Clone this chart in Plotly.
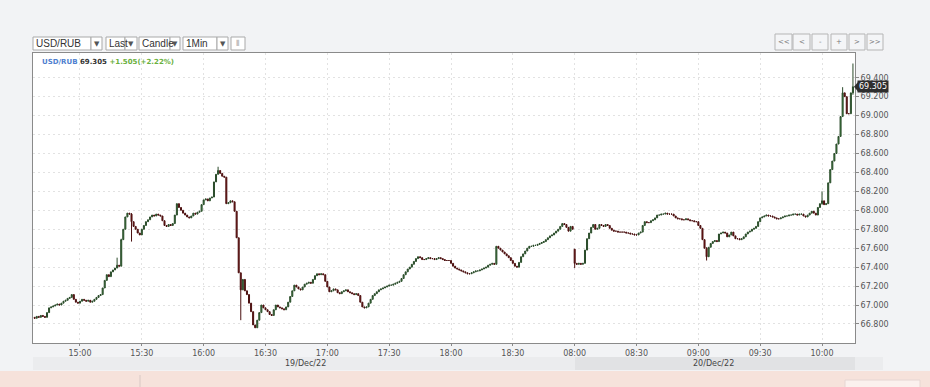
import plotly.graph_objects as go
from datetime import datetime, timedelta

# ---------------- data (1-minute candles, USD/RUB) ----------------
DAY1_DATE = "19/Dec/22"
DAY1_START = "14:38"
DAY1_OPEN0 = 66.87
DAY1_CLOSE = [
    66.86, 66.88, 66.87, 66.89, 66.88, 66.87, 66.92, 66.97,
    66.98, 66.99, 67.00, 67.01, 67.00, 67.02, 67.04,
    67.05, 67.07, 67.08, 67.11, 67.06, 67.03, 67.02,
    67.04, 67.06, 67.05, 67.04, 67.05, 67.03, 67.04,
    67.06, 67.08, 67.10, 67.11, 67.18, 67.26, 67.32,
    67.30, 67.35, 67.37, 67.39, 67.42, 67.41, 67.69,
    67.80, 67.93, 67.97, 67.96, 67.88, 67.83, 67.80, 67.76, 67.74,
    67.80, 67.84, 67.88, 67.90, 67.93, 67.95, 67.94, 67.96, 67.95, 67.94,
    67.89, 67.84, 67.83, 67.85, 67.84, 67.86, 67.95, 68.07,
    68.03, 68.00, 67.97, 67.95, 67.93, 67.92, 67.94, 67.97, 67.96,
    67.98, 67.99, 68.06, 68.11, 68.12, 68.10, 68.13, 68.14,
    68.30, 68.38, 68.42, 68.39, 68.36, 68.35, 68.07,
    68.08, 68.10, 68.09, 67.99, 67.71, 67.34, 67.16, 67.27,
    67.15, 67.11, 67.02, 66.93, 66.79, 66.76,
    66.84, 66.92, 67.00, 66.97, 66.95, 66.93, 66.90, 66.89,
    66.95, 67.00, 66.98, 66.97, 66.96, 66.95, 66.98, 67.03, 67.09,
    67.15, 67.21, 67.19, 67.17, 67.16, 67.19, 67.22, 67.23, 67.24, 67.23,
    67.27, 67.31, 67.33, 67.32, 67.33, 67.32, 67.25, 67.19, 67.14,
    67.15, 67.17, 67.16, 67.13, 67.12, 67.14, 67.15, 67.16,
    67.14, 67.13, 67.12, 67.11, 67.12, 67.10, 67.03, 66.98, 66.97, 66.98,
    67.02, 67.06, 67.10, 67.12, 67.14, 67.16, 67.17, 67.18, 67.19,
    67.20, 67.21, 67.21, 67.22, 67.23, 67.24, 67.25, 67.28, 67.32, 67.35,
    67.38, 67.40, 67.43, 67.46, 67.49, 67.51, 67.50, 67.48, 67.48,
    67.49, 67.50, 67.49, 67.49, 67.48, 67.49, 67.50, 67.49,
    67.48, 67.47, 67.47, 67.47, 67.44, 67.41, 67.39, 67.38, 67.37, 67.36,
    67.35, 67.34, 67.33, 67.33, 67.34, 67.35, 67.36, 67.36,
    67.37, 67.38, 67.39, 67.40, 67.42, 67.43, 67.44, 67.43, 67.62, 67.60,
    67.58, 67.56, 67.54, 67.52, 67.50, 67.47, 67.44, 67.41, 67.40,
    67.45, 67.51, 67.54, 67.57, 67.60, 67.62, 67.62, 67.63, 67.63,
    67.64, 67.65, 67.66, 67.67, 67.69, 67.71, 67.73, 67.74, 67.76,
    67.78, 67.80, 67.83, 67.86, 67.85, 67.82, 67.78, 67.83, 67.80,
]

DAY2_DATE = "20/Dec/22"
DAY2_START = "08:00"
DAY2_OPEN0 = 67.59
DAY2_CLOSE = [
    67.44, 67.43, 67.44, 67.43, 67.44, 67.58, 67.70, 67.76, 67.82, 67.85,
    67.80, 67.81, 67.85, 67.84, 67.83, 67.85, 67.84, 67.81, 67.79,
    67.78, 67.78, 67.77, 67.77, 67.77, 67.77, 67.76, 67.76,
    67.75, 67.75, 67.74, 67.74, 67.76, 67.77, 67.84, 67.88, 67.87, 67.87,
    67.89, 67.90, 67.92, 67.95, 67.95, 67.96, 67.96, 67.97, 67.96, 67.96, 67.96,
    67.94, 67.92, 67.91, 67.91, 67.90, 67.90, 67.91, 67.90,
    67.89, 67.89, 67.88, 67.88, 67.84, 67.81, 67.69, 67.60, 67.51, 67.61,
    67.65, 67.67, 67.68, 67.67, 67.75, 67.76, 67.77, 67.76, 67.72, 67.74,
    67.77, 67.73, 67.70, 67.70, 67.69, 67.70, 67.72, 67.75,
    67.77, 67.78, 67.80, 67.81, 67.83, 67.88, 67.92,
    67.93, 67.94, 67.95, 67.94, 67.94, 67.93, 67.92, 67.91, 67.91,
    67.92, 67.93, 67.94, 67.94, 67.95, 67.95, 67.96, 67.96, 67.95, 67.96, 67.96,
    67.94, 67.93, 67.95, 67.97, 67.99, 67.97, 67.95, 68.03, 68.07,
    68.10, 68.06, 68.07, 68.29, 68.43, 68.52, 68.60, 68.70, 68.78, 68.99,
    69.24, 69.20, 69.02, 69.02, 69.24, 69.305,
]

# notable wicks (time label -> extreme)
WICK_KEYS = ["19 15:18", "19 15:20", "19 15:25", "19 16:07", "19 16:18",
             "20 08:00", "20 09:04", "20 10:00", "20 10:10", "20 10:15"]
WICK_HIGH = [67.50, 67.70, 67.97, 68.46, 67.34, 67.59, 67.61, 68.20, 69.30, 69.55]
WICK_LOW = [67.39, 67.48, 67.67, 68.38, 66.84, 67.39, 67.47, 68.06, 69.20, 69.22]

TICK_TIMES = ["15:00", "15:30", "16:00", "16:30", "17:00", "17:30", "18:00",
              "18:30", "08:00", "08:30", "09:00", "09:30", "10:00"]
Y_TICKS = [66.8, 67.0, 67.2, 67.4, 67.6, 67.8, 68.0, 68.2, 68.4, 68.6, 68.8, 69.0, 69.2, 69.4]
LAST_PRICE = 69.305
LEGEND_PAIR = "USD/RUB"
LEGEND_CHANGE = "+1.505(+2.22%)"

# ---------------- build series ----------------
def session(day_key, start, open0, closes):
    t0 = datetime.strptime(start, "%H:%M")
    times = [(t0 + timedelta(minutes=i)).strftime("%H:%M") for i in range(len(closes))]
    keys = [f"{day_key} {t}" for t in times]
    opens = [open0] + closes[:-1]
    return times, keys, opens

t1, k1, o1 = session("19", DAY1_START, DAY1_OPEN0, DAY1_CLOSE)
t2, k2, o2 = session("20", DAY2_START, DAY2_OPEN0, DAY2_CLOSE)
times = t1 + t2
keys = k1 + k2
opens = o1 + o2
closes = DAY1_CLOSE + DAY2_CLOSE
highs = [max(o, c) for o, c in zip(opens, closes)]
lows = [min(o, c) for o, c in zip(opens, closes)]
for k, h, l in zip(WICK_KEYS, WICK_HIGH, WICK_LOW):
    if k in keys:
        i = keys.index(k)
        highs[i] = max(highs[i], h)
        lows[i] = min(lows[i], l)
xs = list(range(len(closes)))

tickvals = [times.index(t) for t in TICK_TIMES]
i15 = times.index("15:00")
i10 = times.index("10:00")
x_range = [i15 - 22.8, i10 + 16.0]

# ---------------- layout geometry (pixels) ----------------
W, H = 930, 387
L, R, T, B = 33, 855, 53, 343

def px(x):
    return (x - L) / (R - L)

def py(y):
    return (B - y) / (B - T)

fig = go.Figure()
fig.add_trace(go.Candlestick(
    x=xs, open=opens, high=highs, low=lows, close=closes,
    increasing=dict(fillcolor="#3f9a3f", line=dict(color="#2a4a2a", width=1)),
    decreasing=dict(fillcolor="#8a1010", line=dict(color="#4a1010", width=1)),
    whiskerwidth=0, showlegend=False, hoverinfo="skip",
))

shapes = []
anns = []

# bottom pink page region
shapes.append(dict(type="rect", xref="paper", yref="paper", x0=px(0), x1=px(W),
                   y0=py(387), y1=py(371), fillcolor="#f6e2db", line=dict(width=0), layer="below"))
shapes.append(dict(type="line", xref="paper", yref="paper", x0=px(140), x1=px(140),
                   y0=py(387), y1=py(375), line=dict(color="#d8c8c4", width=1)))
shapes.append(dict(type="rect", xref="paper", yref="paper", x0=px(845), x1=px(920),
                   y0=py(390), y1=py(380), fillcolor="#fbf1ee", line=dict(color="#e6d6d2", width=1)))
# date band
shapes.append(dict(type="rect", xref="paper", yref="paper", x0=px(33), x1=px(883),
                   y0=py(370), y1=py(357), fillcolor="#ebecee", line=dict(width=0)))
shapes.append(dict(type="rect", xref="paper", yref="paper", x0=px(575), x1=px(855),
                   y0=py(370), y1=py(357), fillcolor="#e1e2e4", line=dict(width=0)))
anns.append(dict(xref="paper", yref="paper", x=px(305), y=py(363.5), text=DAY1_DATE,
                 xanchor="center", yanchor="middle",
                 showarrow=False, font=dict(size=8, color="#444", family="DejaVu Sans")))
anns.append(dict(xref="paper", yref="paper", x=px(713), y=py(363.5), text=DAY2_DATE,
                 xanchor="center", yanchor="middle",
                 showarrow=False, font=dict(size=8, color="#444", family="DejaVu Sans")))

# toolbar dropdowns
def box(x0, x1, y0, y1, fill="#ffffff", line="#a9a9a9"):
    shapes.append(dict(type="rect", xref="paper", yref="paper", x0=px(x0), x1=px(x1),
                       y0=py(y1), y1=py(y0), fillcolor=fill, line=dict(color=line, width=1)))

def label(x, y, text, size=10, color="#333", anchor="left", family="Liberation Sans"):
    anns.append(dict(xref="paper", yref="paper", x=px(x), y=py(y), text=text, showarrow=False,
                     xanchor=anchor, yanchor="middle", font=dict(size=size, color=color, family=family)))

dropdowns = [("USD/RUB", 33, 91, 102), ("Last", 106, 125, 137),
             ("Candle", 139, 170, 180), ("1Min", 183, 217, 228)]
for txt, a, b, c in dropdowns:
    box(a, b, 37, 50)
    label(a + 1, 43.5, txt, size=10)
    box(b, c, 37, 50)
    label((b + c) / 2, 43.5, "▼", size=7, color="#555", anchor="center", family="DejaVu Sans")
box(231, 245, 37, 50)
label(238, 43.5, "⦀", size=8, color="#999", anchor="center", family="DejaVu Sans")

# navigation buttons
for txt, a, b in [("<<", 775, 792), ("<", 793, 810), ("-", 812, 828),
                  ("+", 831, 847), (">", 849, 865), (">>", 867, 883)]:
    box(a, b, 34, 50, fill="#f4f5f7", line="#b5b5b5")
    label((a + b) / 2, 42, txt, size=7, color="#777", anchor="center", family="DejaVu Sans")

# legend line
anns.append(dict(xref="paper", yref="paper", x=px(40), y=py(61.5), xanchor="left", yanchor="middle",
                 showarrow=False,
                 text=(f"<b><span style='color:#4f7fcf'>{LEGEND_PAIR}</span> "
                       f"<span style='color:#333'>{LAST_PRICE:.3f}</span> "
                       f"<span style='color:#6ab03c'>{LEGEND_CHANGE}</span></b>"),
                 font=dict(size=7, family="DejaVu Sans")))

# last-price tag
shapes.append(dict(type="path", xref="paper", yref="y",
                   path=f"M {px(854)} {LAST_PRICE} L {px(858)} {LAST_PRICE + 0.05} "
                        f"L {px(858)} {LAST_PRICE - 0.05} Z",
                   fillcolor="#2e2e2e", line=dict(width=0)))
anns.append(dict(xref="paper", yref="y", x=px(857), y=LAST_PRICE, xanchor="left", yanchor="middle",
                 text=f"{LAST_PRICE:.3f}", showarrow=False, bgcolor="#2e2e2e", borderpad=1,
                 font=dict(size=8, color="#ffffff", family="DejaVu Sans")))

fig.update_layout(
    width=W, height=H,
    margin=dict(l=L, r=W - R, t=T, b=H - B, pad=0),
    paper_bgcolor="#f2f3f5", plot_bgcolor="#ffffff",
    shapes=shapes, annotations=anns,
    showlegend=False,
    xaxis=dict(
        range=x_range, rangeslider=dict(visible=False),
        tickmode="array", tickvals=tickvals, ticktext=TICK_TIMES,
        ticks="outside", ticklen=2, tickcolor="#888",
        tickfont=dict(size=8, color="#555", family="DejaVu Sans"),
        showgrid=True, gridcolor="#e2e2e2", griddash="2px,3px", gridwidth=1,
        showline=True, linecolor="#8a8a8a", linewidth=1, mirror=True,
        zeroline=False, fixedrange=True,
    ),
    yaxis=dict(
        side="right", range=[66.599, 69.661],
        tickmode="array", tickvals=Y_TICKS, ticktext=[f"{v:.3f}" for v in Y_TICKS],
        ticks="outside", ticklen=3, tickcolor="#888",
        tickfont=dict(size=8, color="#555", family="DejaVu Sans"),
        showgrid=True, gridcolor="#e2e2e2", griddash="2px,3px", gridwidth=1,
        showline=True, linecolor="#8a8a8a", linewidth=1, mirror=True,
        zeroline=False, fixedrange=True,
    ),
)

fig.write_html(
    "out.html",
    config={"displayModeBar": False, "staticPlot": True},
    post_script="document.body.style.margin='0';document.body.style.overflow='hidden';"
                "document.documentElement.style.overflow='hidden';",
)
